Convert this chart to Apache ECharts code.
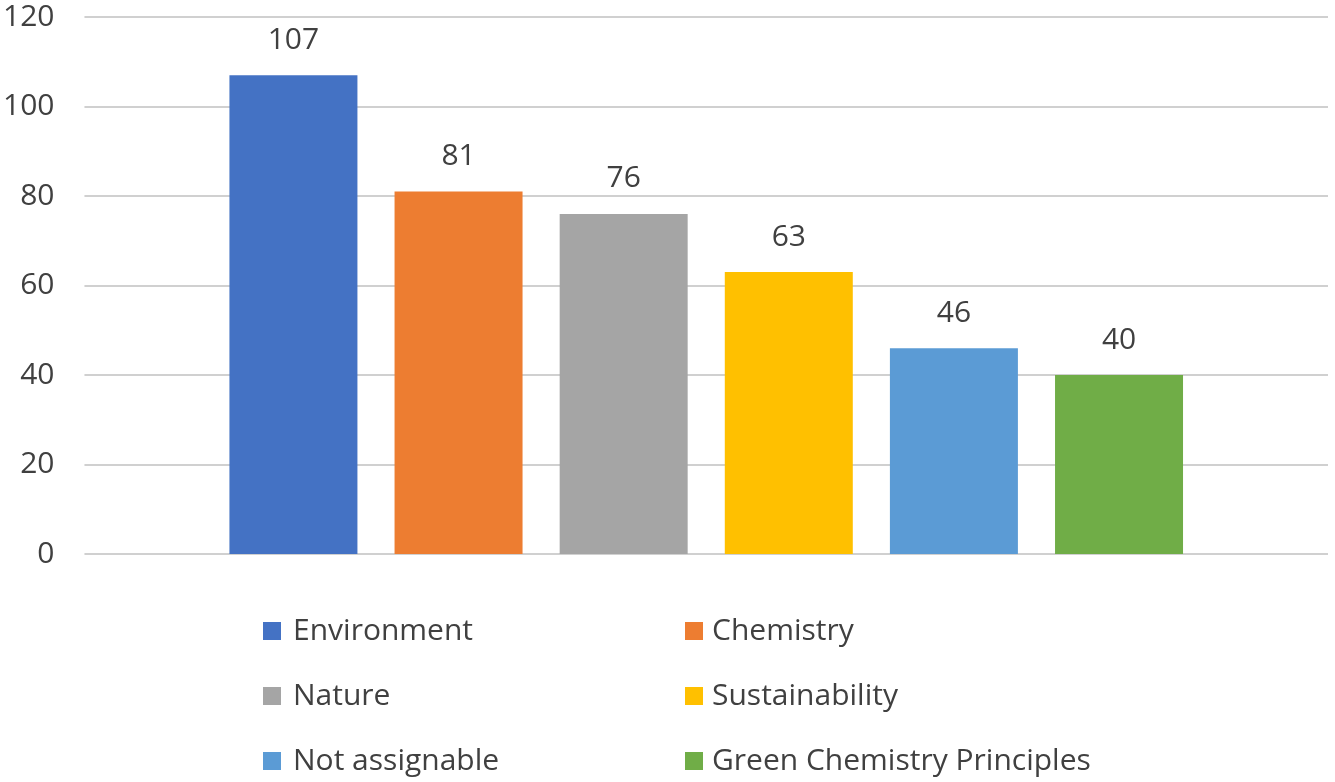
<!DOCTYPE html>
<html>
<head>
<meta charset="utf-8">
<script src="https://cdn.jsdelivr.net/npm/echarts@6/dist/echarts.min.js"></script>
<style>html,body{margin:0;padding:0;background:#fff}#c{width:1335px;height:782px}</style>
</head>
<body>
<div id="c"></div>
<script>
const seriesNames = ['Environment','Chemistry','Nature','Sustainability','Not assignable','Green Chemistry Principles'];
const seriesValues = [107, 81, 76, 63, 46, 40];
const seriesColors = ['#4472C4','#ED7D31','#A5A5A5','#FFC000','#5B9BD5','#70AD47'];
const categories = [''];
const yTicks = {min: 0, max: 120, interval: 20};

const chart = echarts.init(document.getElementById('c'));
const font = 'Open Sans';
const legendCommon = {
  orient: 'vertical', top: 616, height: 166, padding: 0, itemWidth: 18, itemHeight: 18, itemGap: 35,
  icon: 'rect', selectedMode: false,
  textStyle: {fontFamily: font, fontSize: 30, color: '#404040', lineHeight: 30, padding: [0,0,0,7]}
};
chart.setOption({
  animation: false,
  color: seriesColors,
  grid: {left: 83, right: 7, top: 17, bottom: 228, containLabel: false},
  legend: [
    Object.assign({}, legendCommon, {left: 263, data: [seriesNames[0], seriesNames[2], seriesNames[4]]}),
    Object.assign({}, legendCommon, {left: 685, textStyle: Object.assign({}, legendCommon.textStyle, {padding: [0,0,0,4]}), data: [seriesNames[1], seriesNames[3], seriesNames[5]]})
  ],
  xAxis: {
    type: 'category', data: categories,
    axisLine: {show: false}, axisTick: {show: false}, axisLabel: {show: false}
  },
  yAxis: {
    type: 'value', min: yTicks.min, max: yTicks.max, interval: yTicks.interval,
    axisLine: {show: false}, axisTick: {show: false},
    axisLabel: {fontFamily: font, fontSize: 30, color: '#404040', margin: 30},
    splitLine: {lineStyle: {color: '#d0d0d0', width: 2}}
  },
  series: seriesNames.map((n, i) => ({
    name: n, type: 'bar', barWidth: 128, barGap: '29%',
    data: [seriesValues[i]],
    itemStyle: {color: seriesColors[i]},
    label: {show: true, position: 'top', distance: 20, fontFamily: font, fontSize: 30, color: '#404040'}
  }))
});
</script>
</body>
</html>
